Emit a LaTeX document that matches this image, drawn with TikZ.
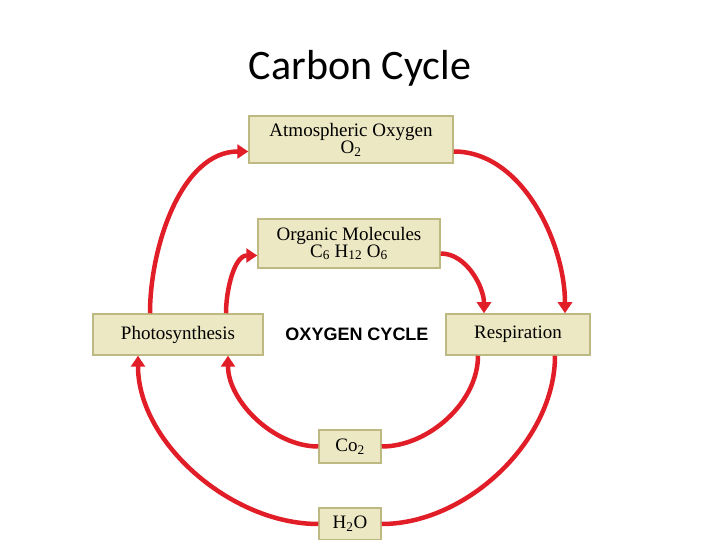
\documentclass[tikz,border=0pt]{standalone}
\usepackage{fontspec}
\setmainfont{Liberation Serif}
\newfontfamily\titlefont{Carlito}
\newfontfamily\labfont{Liberation Sans}
\usetikzlibrary{arrows.meta}
\definecolor{boxfill}{RGB}{236,232,195}
\definecolor{boxline}{RGB}{190,185,130}
\definecolor{arr}{RGB}{225,30,40}
\tikzset{
  bx/.style={draw=boxline,fill=boxfill,line width=1.5pt,inner sep=0pt,align=center,font=\fontsize{19}{17}\selectfont},
  cyc/.style={draw=arr,line width=4.5pt},
  cyca/.style={cyc,-{Triangle[length=11pt,width=14pt]}}
}
\begin{document}
\begin{tikzpicture}[x=1pt,y=1pt]
\useasboundingbox (0,0) rectangle (720,540);
\node[font=\titlefont\fontsize{42}{44}\selectfont] (title) at (360,472) {Carbon Cycle};
\node[bx,minimum width=204,minimum height=47] (atm) at (351,400.5) {Atmospheric Oxygen\\O\textsubscript{2}};
\node[bx,minimum width=182,minimum height=49] (org) at (349,296.5) {Organic Molecules\\C\textsubscript{6} H\textsubscript{12} O\textsubscript{6}};
\node[bx,minimum width=170,minimum height=41] (pho) at (178,205.5) {Photosynthesis};
\node[bx,minimum width=144,minimum height=41] (res) at (518,205.5) {Respiration};
\node[font=\labfont\bfseries\fontsize{18}{18}\selectfont] (oc) at (357,206) {OXYGEN CYCLE};
\node[bx,minimum width=62,minimum height=33] (co) at (350,93.5) {Co\textsubscript{2}};
\node[bx,minimum width=62,minimum height=32] (ho) at (350,16) {H\textsubscript{2}O};
% outer
\draw[cyca] ([xshift=-28]pho.north) to[out=90,in=180,looseness=0.9] ([yshift=-12]atm.west);
\draw[cyca] ([yshift=-12]atm.east) to[out=0,in=90,looseness=0.9] ([xshift=47]res.north);
\draw[cyc] ([xshift=37]res.south) to[out=-90,in=0,looseness=0.9] (ho.east);
\draw[cyca] (ho.west) to[out=180,in=-90,looseness=0.9] ([xshift=-40]pho.south);
% inner
\draw[cyca] ([xshift=48]pho.north) to[out=90,in=180,looseness=0.9] ([yshift=-12]org.west);
\draw[cyca] ([yshift=-10]org.east) to[out=0,in=90,looseness=0.9] ([xshift=-34]res.north);
\draw[cyc] ([xshift=-40]res.south) to[out=-90,in=0,looseness=0.9] (co.east);
\draw[cyca] (co.west) to[out=180,in=-90,looseness=0.9] ([xshift=50]pho.south);
\end{tikzpicture}
\end{document}
